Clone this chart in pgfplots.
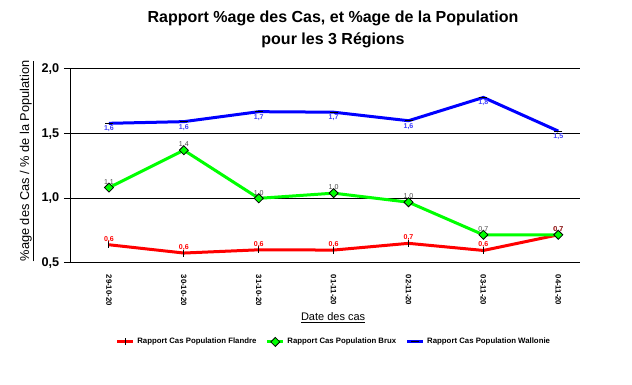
\documentclass[border=0pt]{standalone}
\usepackage{fontspec}
\setmainfont{Liberation Sans}
\usepackage{pgfplots}
\pgfplotsset{compat=1.18}
\definecolor{lblue}{RGB}{60,60,255}
\definecolor{lgray}{RGB}{70,70,70}
\begin{document}
\begin{tikzpicture}
\path[use as bounding box] (0,0) rectangle (474pt,288.75pt);
\node[font=\bfseries\fontsize{12}{16.5}\selectfont, align=center] at (249.75pt,267pt) {Rapport \%age des Cas, et \%age de la Population\\pour les 3 Régions};
\begin{axis}[
  at={(53.25pt,91.5pt)}, anchor=south west,
  scale only axis, width=381.75pt, height=145.5pt,
  xmin=-0.507, xmax=6.29, ymin=0.5, ymax=2.0,
  ytick={0.5,1,1.5,2},
  xtick={0,...,6},
  xticklabels={29-10-20,30-10-20,31-10-20,01-11-20,02-11-20,03-11-20,04-11-20},
  axis x line*=bottom, axis y line*=left,
  axis line style={black, line width=0.75pt, -},
  ymajorgrids, major grid style={black, line width=0.75pt},
  tick align=outside, major tick length=5.25pt,
  xtick style={draw=none},
  ytick style={black, line width=0.75pt},
  yticklabel style={font=\bfseries\fontsize{9.5}{11}\selectfont},
  xticklabel style={rotate=-90, anchor=west, font=\bfseries\fontsize{5.8}{7}\selectfont},
  /pgf/number format/fixed, /pgf/number format/fixed zerofill,
  /pgf/number format/precision=1, /pgf/number format/use comma,
  /pgf/number format/assume math mode=true,
  xlabel={\underline{Date des cas}},
  xlabel style={at={(axis description cs:0.515,-0.2835)}, anchor=center, font=\fontsize{8.25}{10}\selectfont},
  ylabel={\underline{\%age des Cas / \% de la Population}},
  ylabel style={at={(axis description cs:-0.0864,0.526)}, anchor=center, font=\fontsize{9.6}{11}\selectfont},
  legend columns=3,
  legend style={at={(axis description cs:0.517,-0.407)}, anchor=center, draw=none,
    font=\bfseries\fontsize{5.85}{7}\selectfont,
    /tikz/every even column/.append style={column sep=5pt}},
  legend image code/.code={\draw[#1] (0pt,0pt) -- (12pt,0pt); \draw[#1, only marks] plot coordinates {(6pt,0pt)};},
]
\addplot[red, line width=2.25pt, mark=|, mark size=2.6pt,
  mark options={black, line width=0.75pt},
  nodes near coords, every node near coord/.style={red, font=\bfseries\fontsize{5.3}{6}\selectfont, anchor=south, inner sep=1.5pt}]
  coordinates {(0,0.641) (1,0.577) (2,0.602) (3,0.600) (4,0.652) (5,0.597) (6,0.718)};
\addlegendentry{Rapport Cas Population Flandre}
\addplot[green, line width=2.25pt, mark=square*, mark size=2.4pt,
  mark options={fill=green, draw=black, line width=0.6pt, rotate=45},
  nodes near coords, every node near coord/.style={lgray, font=\fontsize{5.3}{6}\selectfont, anchor=south, inner sep=1.5pt}]
  coordinates {(0,1.083) (1,1.372) (2,1.000) (3,1.040) (4,0.970) (5,0.718) (6,0.718)};
\addlegendentry{Rapport Cas Population Brux}
\addplot[blue, line width=2.25pt, mark=-, mark size=3pt,
  mark options={black, line width=0.75pt},
  nodes near coords, every node near coord/.style={lblue, font=\bfseries\fontsize{5.3}{6}\selectfont, anchor=north, inner sep=1.5pt}]
  coordinates {(0,1.580) (1,1.593) (2,1.670) (3,1.666) (4,1.600) (5,1.780) (6,1.520)};
\addlegendentry{Rapport Cas Population Wallonie}
\end{axis}
\end{tikzpicture}
\end{document}
